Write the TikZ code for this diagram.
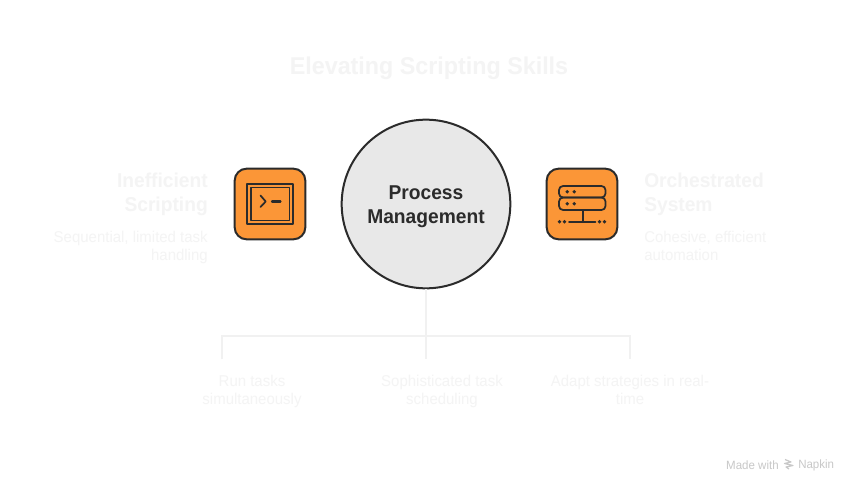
\documentclass[tikz,border=0pt]{standalone}
\usepackage{fontspec}
\setmainfont[FakeStretch=0.96]{Liberation Sans}
\definecolor{faint}{HTML}{F4F4F4}
\definecolor{linec}{HTML}{F1F1F1}
\definecolor{ink}{HTML}{2B2B2B}
\definecolor{org}{HTML}{FB9637}
\definecolor{discfill}{HTML}{E8E8E8}
\definecolor{footc}{HTML}{C8C8C8}
\tikzset{
  x=0.75pt,y=-0.75pt,
  iconbox/.style={draw=ink,fill=org,line width=1.5pt,rounded corners=9pt,minimum width=53pt,minimum height=53pt,inner sep=0pt},
  hubdisc/.style={circle,draw=ink,fill=discfill,line width=1.5pt,minimum size=126.5pt,inner sep=0pt},
  hubtext/.style={align=center,inner sep=0pt,text=ink,font=\bfseries\fontsize{15}{18}\selectfont},
  ttl/.style={text=faint,inner sep=0pt,font=\bfseries\fontsize{18.2}{22}\selectfont},
  head/.style={text=faint,inner sep=0pt,font=\bfseries\fontsize{15}{18}\selectfont},
  desc/.style={text=faint,inner sep=0pt,font=\fontsize{11.7}{13.5}\selectfont},
  conn/.style={draw=linec,line width=1.5pt},
  glyph/.style={draw=ink,line width=1.3pt,line cap=round,line join=round},
  gdot/.style={fill=ink,draw=none},
  foot/.style={text=footc,inner sep=0pt,font=\fontsize{9}{10}\selectfont}
}
\begin{document}
\begin{tikzpicture}
\useasboundingbox (0,0) rectangle (858,492);
\fill[white] (0,0) rectangle (858,492);
\node[ttl] (title) at (429,68) {Elevating Scripting Skills};
\node[hubdisc,label={[hubtext,yshift=-2.25pt]center:Process\\Management}] (hub) at (426,204) {};
\coordinate (tee) at (426,336);
\coordinate (ltop) at (222,336);
\coordinate (rtop) at (630,336);
\coordinate (lend) at (222,359);
\coordinate (mend) at (426,359);
\coordinate (rend) at (630,359);
\draw[conn] (hub.south) -- (tee) -- (mend);
\draw[conn] (lend) -- (ltop) -- (rtop) -- (rend);
% icon boxes
\node[iconbox] (left) at (270,204) {};
\node[iconbox] (right) at (582,204) {};
% terminal icon
\draw[glyph] (247,184) rectangle (293,224);
\draw[glyph] (251,187.5) rectangle (289.5,220.5);
\draw[glyph] (260.5,195.5) -- (265.7,201.5) -- (260.5,207);
\draw[glyph,line width=1.6pt] (272,201.5) -- (280.5,201.5);
% server icon
\draw[glyph,rounded corners=3pt] (559,186) rectangle (605.5,197.5);
\draw[glyph,rounded corners=3pt] (559,197.5) rectangle (605.5,210);
\foreach \px/\py in {567.3/191.7,574.3/191.7,567.3/203.7,574.3/203.7,559.5/221.7,564.5/221.7,599.5/221.7,604.5/221.7}
  \fill[gdot] (\px,\py) circle (1.4pt);
\draw[glyph] (583,210) -- (583,221.7);
\draw[glyph] (569,221.7) -- (595.5,221.7);
% side texts
\node[head,anchor=north east,align=right] (lh) at (208,172.5) {Inefficient\\Scripting};
\node[desc,anchor=north east,align=right] (ld) at (208,231) {Sequential, limited task\\handling};
\node[head,anchor=north west,align=left] (rh) at (644,172.5) {Orchestrated\\System};
\node[desc,anchor=north west,align=left] (rd) at (644,231) {Cohesive, efficient\\automation};
% branch labels
\node[desc,align=center] (b1) at (252,391) {Run tasks\\simultaneously};
\node[desc,align=center] (b2) at (442,391) {Sophisticated task\\scheduling};
\node[desc,align=center] (b3) at (630,389.5) {Adapt strategies in real-\\time};
% footer
\node[foot,anchor=east] (made) at (779,465) {Made with};
\node[foot,anchor=west] (nap) at (798,465) {Napkin};
\draw[footc,line width=0.9pt,line join=round] (785,459.5) -- (791,462) -- (784.5,463.5) -- (793,465.5) -- (786,467) -- (789,469);
\end{tikzpicture}
\end{document}
